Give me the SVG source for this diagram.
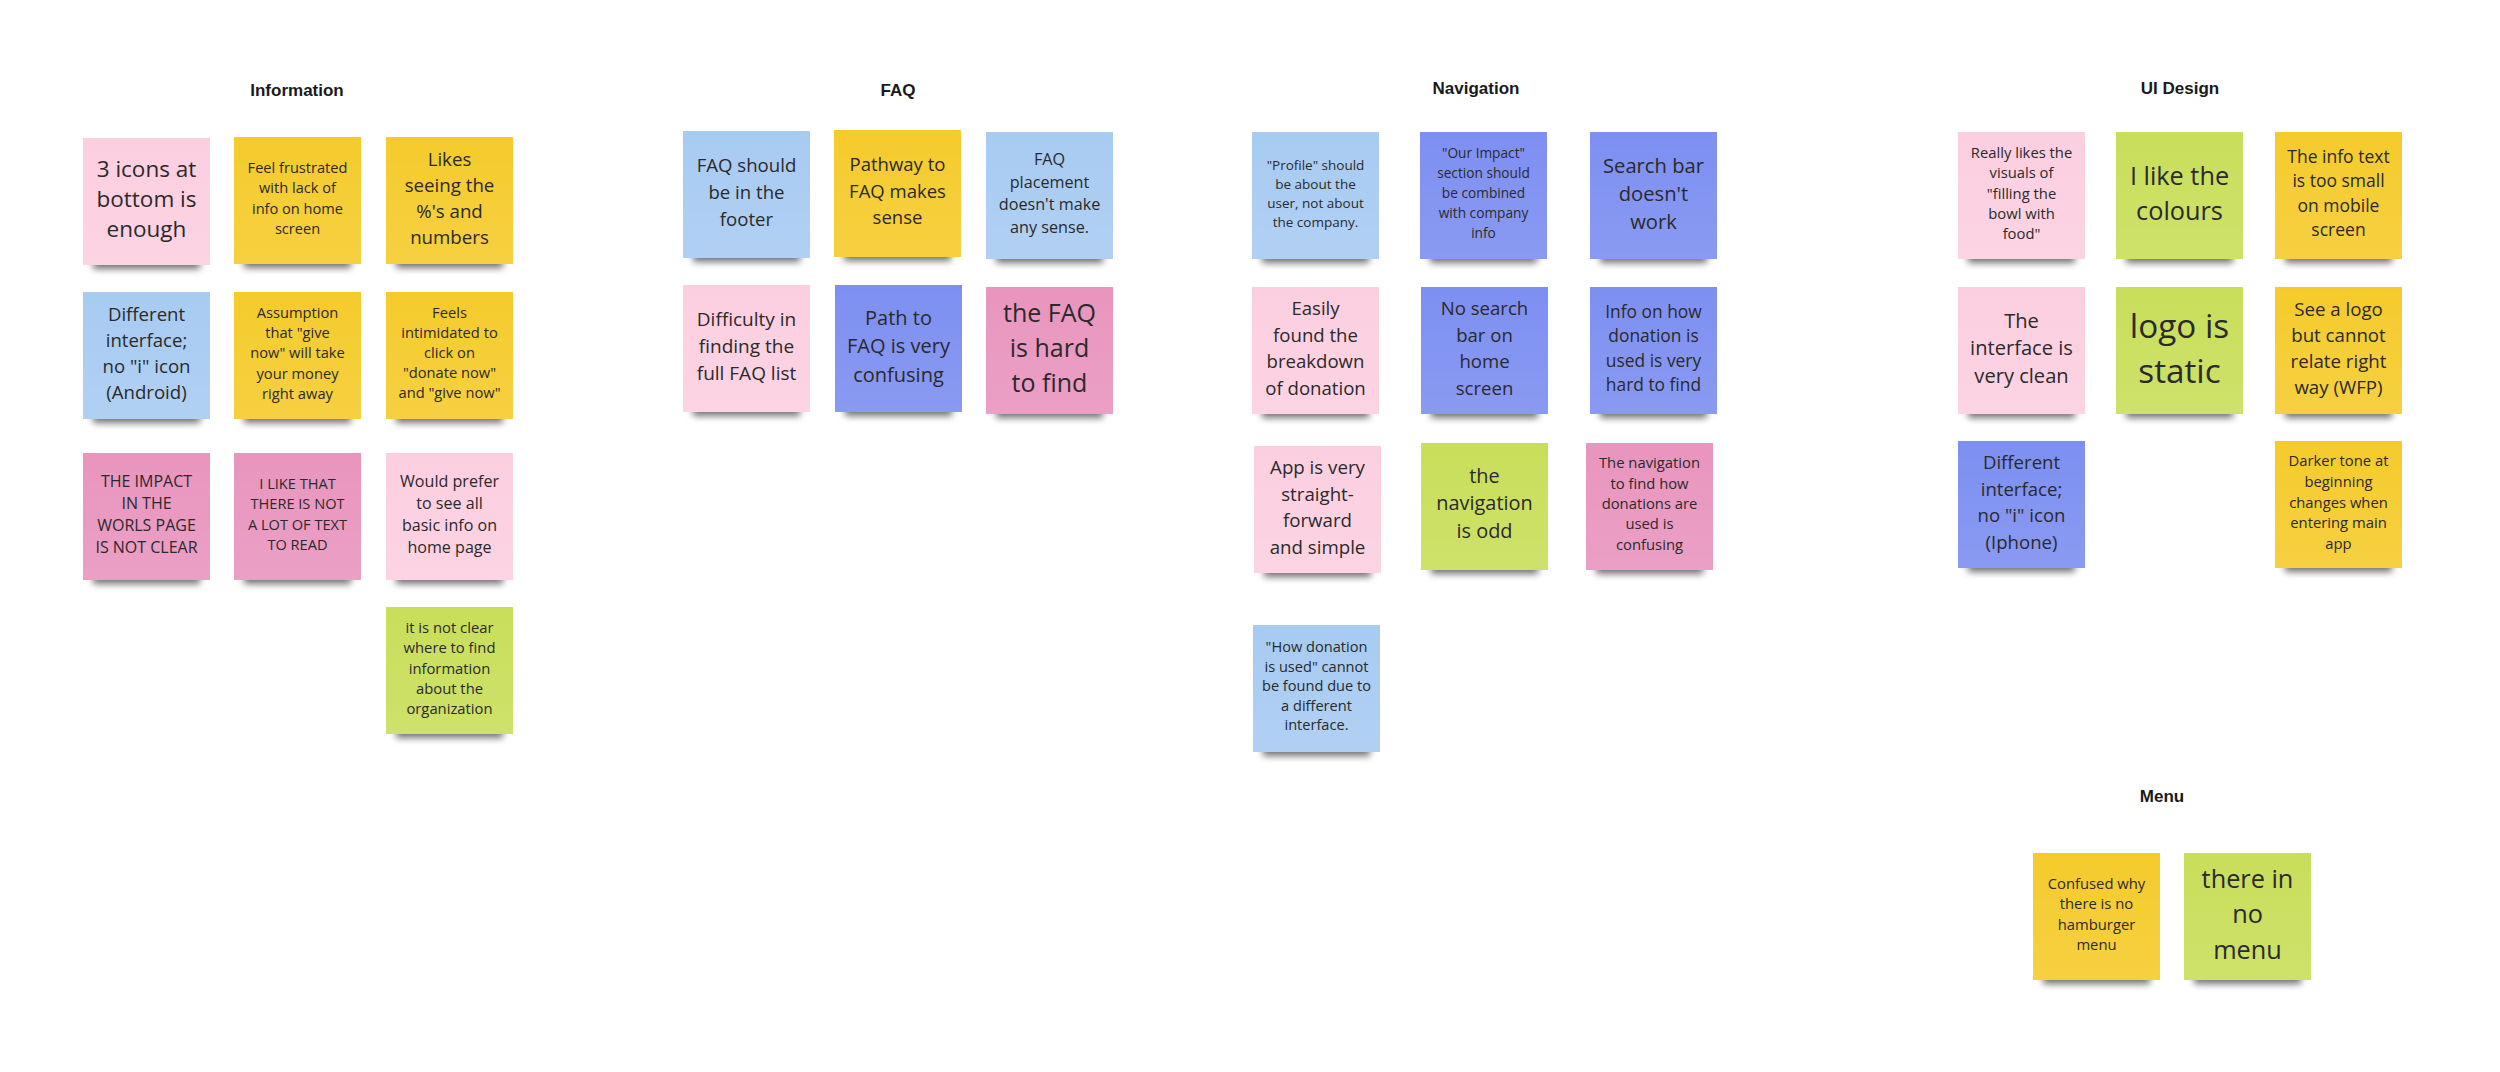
<svg xmlns="http://www.w3.org/2000/svg" xmlns:xlink="http://www.w3.org/1999/xlink" width="2500" height="1072" viewBox="0 0 2500 1072">
<style>
.bg{fill:#ffffff}
.title{font-family:"Liberation Sans",Arial,sans-serif;font-weight:700;font-size:17px;fill:#1a1a1a;text-anchor:middle}
.t{font-family:"Open Sans","Liberation Sans",sans-serif;fill:#2a2a2a;text-anchor:middle}
.sh{fill:#000;opacity:0.55;filter:url(#blur)}
.pk{fill:#fccfe0}
.ye{fill:#f5cb2c}
.lb{fill:#a8cbf2}
.pw{fill:#7d8ff1}
.mg{fill:#e995be}
.gr{fill:#c9de5a}
.gl{fill:url(#gloss)}
</style>
<defs>
<filter id="blur" x="-20%" y="-100%" width="140%" height="300%"><feGaussianBlur stdDeviation="3.5"/></filter>
<linearGradient id="gloss" x1="0" y1="0" x2="0" y2="1">
<stop offset="0" stop-color="#ffffff" stop-opacity="0"/>
<stop offset="1" stop-color="#ffffff" stop-opacity="0.10"/>
</linearGradient>
<g id="shadow"><rect class="sh" x="10" y="116" width="107" height="15"/></g>
</defs>
<rect class="bg" x="0" y="0" width="2500" height="1072"/>

<g id="titles">
<text class="title" x="297" y="96">Information</text>
<text class="title" x="898" y="96">FAQ</text>
<text class="title" x="1476" y="94">Navigation</text>
<text class="title" x="2180" y="94">UI Design</text>
<text class="title" x="2162" y="802">Menu</text>
</g>

<g id="connectors"></g>

<!-- Information -->
<g id="note-i1" transform="translate(83,138)"><use href="#shadow"/><rect class="pk" width="127" height="127"/><rect class="gl" width="127" height="127"/>
<text class="t" style="font-size:22.5px" y="38.5"><tspan x="63.5">3 icons at</tspan><tspan x="63.5" dy="30">bottom is</tspan><tspan x="63.5" dy="30">enough</tspan></text></g>
<g id="note-i2" transform="translate(234,137)"><use href="#shadow"/><rect class="ye" width="127" height="127"/><rect class="gl" width="127" height="127"/>
<text class="t" style="font-size:14.6px" y="35.7"><tspan x="63.5">Feel frustrated</tspan><tspan x="63.5" dy="20.5">with lack of</tspan><tspan x="63.5" dy="20.5">info on home</tspan><tspan x="63.5" dy="20.5">screen</tspan></text></g>
<g id="note-i3" transform="translate(386,137)"><use href="#shadow"/><rect class="ye" width="127" height="127"/><rect class="gl" width="127" height="127"/>
<text class="t" style="font-size:18.7px" y="28.5"><tspan x="63.5">Likes</tspan><tspan x="63.5" dy="26">seeing the</tspan><tspan x="63.5" dy="26">%'s and</tspan><tspan x="63.5" dy="26">numbers</tspan></text></g>
<g id="note-i4" transform="translate(83,292)"><use href="#shadow"/><rect class="lb" width="127" height="127"/><rect class="gl" width="127" height="127"/>
<text class="t" style="font-size:18.6px" y="28.9"><tspan x="63.5">Different</tspan><tspan x="63.5" dy="26">interface;</tspan><tspan x="63.5" dy="26">no "i" icon</tspan><tspan x="63.5" dy="26">(Android)</tspan></text></g>
<g id="note-i5" transform="translate(234,292)"><use href="#shadow"/><rect class="ye" width="127" height="127"/><rect class="gl" width="127" height="127"/>
<text class="t" style="font-size:14.7px" y="25.8"><tspan x="63.5">Assumption</tspan><tspan x="63.5" dy="20.3">that "give</tspan><tspan x="63.5" dy="20.3">now" will take</tspan><tspan x="63.5" dy="20.3">your money</tspan><tspan x="63.5" dy="20.3">right away</tspan></text></g>
<g id="note-i6" transform="translate(386,292)"><use href="#shadow"/><rect class="ye" width="127" height="127"/><rect class="gl" width="127" height="127"/>
<text class="t" style="font-size:14.7px" y="26.4"><tspan x="63.5">Feels</tspan><tspan x="63.5" dy="20">intimidated to</tspan><tspan x="63.5" dy="20">click on</tspan><tspan x="63.5" dy="20">"donate now"</tspan><tspan x="63.5" dy="20">and "give now"</tspan></text></g>
<g id="note-i7" transform="translate(83,453)"><use href="#shadow"/><rect class="mg" width="127" height="127"/><rect class="gl" width="127" height="127"/>
<text class="t" style="font-size:16px" y="33.5"><tspan x="63.5">THE IMPACT</tspan><tspan x="63.5" dy="22.3">IN THE</tspan><tspan x="63.5" dy="22.3">WORLS PAGE</tspan><tspan x="63.5" dy="22.3">IS NOT CLEAR</tspan></text></g>
<g id="note-i8" transform="translate(234,453)"><use href="#shadow"/><rect class="mg" width="127" height="127"/><rect class="gl" width="127" height="127"/>
<text class="t" style="font-size:14.6px" y="35.7"><tspan x="63.5">I LIKE THAT</tspan><tspan x="63.5" dy="20.5">THERE IS NOT</tspan><tspan x="63.5" dy="20.5">A LOT OF TEXT</tspan><tspan x="63.5" dy="20.5">TO READ</tspan></text></g>
<g id="note-i9" transform="translate(386,453)"><use href="#shadow"/><rect class="pk" width="127" height="127"/><rect class="gl" width="127" height="127"/>
<text class="t" style="font-size:16.1px" y="34"><tspan x="63.5">Would prefer</tspan><tspan x="63.5" dy="22">to see all</tspan><tspan x="63.5" dy="22">basic info on</tspan><tspan x="63.5" dy="22">home page</tspan></text></g>
<g id="note-i10" transform="translate(386,607)"><use href="#shadow"/><rect class="gr" width="127" height="127"/><rect class="gl" width="127" height="127"/>
<text class="t" style="font-size:14.8px" y="25.9"><tspan x="63.5">it is not clear</tspan><tspan x="63.5" dy="20.3">where to find</tspan><tspan x="63.5" dy="20.3">information</tspan><tspan x="63.5" dy="20.3">about the</tspan><tspan x="63.5" dy="20.3">organization</tspan></text></g>

<!-- FAQ -->
<g id="note-f1" transform="translate(683,131)"><use href="#shadow"/><rect class="lb" width="127" height="127"/><rect class="gl" width="127" height="127"/>
<text class="t" style="font-size:18.6px" y="41.2"><tspan x="63.5">FAQ should</tspan><tspan x="63.5" dy="26.7">be in the</tspan><tspan x="63.5" dy="26.7">footer</tspan></text></g>
<g id="note-f2" transform="translate(834,130)"><use href="#shadow"/><rect class="ye" width="127" height="127"/><rect class="gl" width="127" height="127"/>
<text class="t" style="font-size:18.5px" y="41.2"><tspan x="63.5">Pathway to</tspan><tspan x="63.5" dy="26.6">FAQ makes</tspan><tspan x="63.5" dy="26.6">sense</tspan></text></g>
<g id="note-f3" transform="translate(986,132)"><use href="#shadow"/><rect class="lb" width="127" height="127"/><rect class="gl" width="127" height="127"/>
<text class="t" style="font-size:16.2px" y="33.4"><tspan x="63.5">FAQ</tspan><tspan x="63.5" dy="22.4">placement</tspan><tspan x="63.5" dy="22.4">doesn't make</tspan><tspan x="63.5" dy="22.4">any sense.</tspan></text></g>
<g id="note-f4" transform="translate(683,285)"><use href="#shadow"/><rect class="pk" width="127" height="127"/><rect class="gl" width="127" height="127"/>
<text class="t" style="font-size:19px" y="41.3"><tspan x="63.5">Difficulty in</tspan><tspan x="63.5" dy="26.7">finding the</tspan><tspan x="63.5" dy="26.7">full FAQ list</tspan></text></g>
<g id="note-f5" transform="translate(835,285)"><use href="#shadow"/><rect class="pw" width="127" height="127"/><rect class="gl" width="127" height="127"/>
<text class="t" style="font-size:20px" y="40.1"><tspan x="63.5">Path to</tspan><tspan x="63.5" dy="28.3">FAQ is very</tspan><tspan x="63.5" dy="28.3">confusing</tspan></text></g>
<g id="note-f6" transform="translate(986,287)"><use href="#shadow"/><rect class="mg" width="127" height="127"/><rect class="gl" width="127" height="127"/>
<text class="t" style="font-size:25px" y="35.3"><tspan x="63.5">the FAQ</tspan><tspan x="63.5" dy="35">is hard</tspan><tspan x="63.5" dy="35">to find</tspan></text></g>

<!-- Navigation -->
<g id="note-n1" transform="translate(1252,132)"><use href="#shadow"/><rect class="lb" width="127" height="127"/><rect class="gl" width="127" height="127"/>
<text class="t" style="font-size:13.5px" y="37.5"><tspan x="63.5">"Profile" should</tspan><tspan x="63.5" dy="19">be about the</tspan><tspan x="63.5" dy="19">user, not about</tspan><tspan x="63.5" dy="19">the company.</tspan></text></g>
<g id="note-n2" transform="translate(1420,132)"><use href="#shadow"/><rect class="pw" width="127" height="127"/><rect class="gl" width="127" height="127"/>
<text class="t" style="font-size:13.7px" y="26.1"><tspan x="63.5">"Our Impact"</tspan><tspan x="63.5" dy="20">section should</tspan><tspan x="63.5" dy="20">be combined</tspan><tspan x="63.5" dy="20">with company</tspan><tspan x="63.5" dy="20">info</tspan></text></g>
<g id="note-n3" transform="translate(1590,132)"><use href="#shadow"/><rect class="pw" width="127" height="127"/><rect class="gl" width="127" height="127"/>
<text class="t" style="font-size:20.2px" y="40.5"><tspan x="63.5">Search bar</tspan><tspan x="63.5" dy="28">doesn't</tspan><tspan x="63.5" dy="28">work</tspan></text></g>
<g id="note-n4" transform="translate(1252,287)"><use href="#shadow"/><rect class="pk" width="127" height="127"/><rect class="gl" width="127" height="127"/>
<text class="t" style="font-size:18.6px" y="28.2"><tspan x="63.5">Easily</tspan><tspan x="63.5" dy="26.5">found the</tspan><tspan x="63.5" dy="26.5">breakdown</tspan><tspan x="63.5" dy="26.5">of donation</tspan></text></g>
<g id="note-n5" transform="translate(1421,287)"><use href="#shadow"/><rect class="pw" width="127" height="127"/><rect class="gl" width="127" height="127"/>
<text class="t" style="font-size:18.6px" y="28.2"><tspan x="63.5">No search</tspan><tspan x="63.5" dy="26.5">bar on</tspan><tspan x="63.5" dy="26.5">home</tspan><tspan x="63.5" dy="26.5">screen</tspan></text></g>
<g id="note-n6" transform="translate(1590,287)"><use href="#shadow"/><rect class="pw" width="127" height="127"/><rect class="gl" width="127" height="127"/>
<text class="t" style="font-size:17.4px" y="31.3"><tspan x="63.5">Info on how</tspan><tspan x="63.5" dy="24.1">donation is</tspan><tspan x="63.5" dy="24.1">used is very</tspan><tspan x="63.5" dy="24.1">hard to find</tspan></text></g>
<g id="note-n7" transform="translate(1254,446)"><use href="#shadow"/><rect class="pk" width="127" height="127"/><rect class="gl" width="127" height="127"/>
<text class="t" style="font-size:18.7px" y="28.2"><tspan x="63.5">App is very</tspan><tspan x="63.5" dy="26.5">straight-</tspan><tspan x="63.5" dy="26.5">forward</tspan><tspan x="63.5" dy="26.5">and simple</tspan></text></g>
<g id="note-n8" transform="translate(1421,443)"><use href="#shadow"/><rect class="gr" width="127" height="127"/><rect class="gl" width="127" height="127"/>
<text class="t" style="font-size:19.9px" y="39.5"><tspan x="63.5">the</tspan><tspan x="63.5" dy="27.9">navigation</tspan><tspan x="63.5" dy="27.9">is odd</tspan></text></g>
<g id="note-n9" transform="translate(1586,443)"><use href="#shadow"/><rect class="mg" width="127" height="127"/><rect class="gl" width="127" height="127"/>
<text class="t" style="font-size:14.8px" y="25.2"><tspan x="63.5">The navigation</tspan><tspan x="63.5" dy="20.4">to find how</tspan><tspan x="63.5" dy="20.4">donations are</tspan><tspan x="63.5" dy="20.4">used is</tspan><tspan x="63.5" dy="20.4">confusing</tspan></text></g>
<g id="note-n10" transform="translate(1253,625)"><use href="#shadow"/><rect class="lb" width="127" height="127"/><rect class="gl" width="127" height="127"/>
<text class="t" style="font-size:14.6px" y="27.4"><tspan x="63.5">"How donation</tspan><tspan x="63.5" dy="19.5">is used" cannot</tspan><tspan x="63.5" dy="19.5">be found due to</tspan><tspan x="63.5" dy="19.5">a different</tspan><tspan x="63.5" dy="19.5">interface.</tspan></text></g>

<!-- UI Design -->
<g id="note-u1" transform="translate(1958,132)"><use href="#shadow"/><rect class="pk" width="127" height="127"/><rect class="gl" width="127" height="127"/>
<text class="t" style="font-size:14.8px" y="25.9"><tspan x="63.5">Really likes the</tspan><tspan x="63.5" dy="20.3">visuals of</tspan><tspan x="63.5" dy="20.3">"filling the</tspan><tspan x="63.5" dy="20.3">bowl with</tspan><tspan x="63.5" dy="20.3">food"</tspan></text></g>
<g id="note-u2" transform="translate(2116,132)"><use href="#shadow"/><rect class="gr" width="127" height="127"/><rect class="gl" width="127" height="127"/>
<text class="t" style="font-size:25.3px" y="52.9"><tspan x="63.5">I like the</tspan><tspan x="63.5" dy="35">colours</tspan></text></g>
<g id="note-u3" transform="translate(2275,132)"><use href="#shadow"/><rect class="ye" width="127" height="127"/><rect class="gl" width="127" height="127"/>
<text class="t" style="font-size:17.5px" y="30.6"><tspan x="63.5">The info text</tspan><tspan x="63.5" dy="24.6">is too small</tspan><tspan x="63.5" dy="24.6">on mobile</tspan><tspan x="63.5" dy="24.6">screen</tspan></text></g>
<g id="note-u4" transform="translate(1958,287)"><use href="#shadow"/><rect class="pk" width="127" height="127"/><rect class="gl" width="127" height="127"/>
<text class="t" style="font-size:20.1px" y="40.8"><tspan x="63.5">The</tspan><tspan x="63.5" dy="27.6">interface is</tspan><tspan x="63.5" dy="27.6">very clean</tspan></text></g>
<g id="note-u5" transform="translate(2116,287)"><use href="#shadow"/><rect class="gr" width="127" height="127"/><rect class="gl" width="127" height="127"/>
<text class="t" style="font-size:33.3px" y="50.9"><tspan x="63.5">logo is</tspan><tspan x="63.5" dy="44.8">static</tspan></text></g>
<g id="note-u6" transform="translate(2275,287)"><use href="#shadow"/><rect class="ye" width="127" height="127"/><rect class="gl" width="127" height="127"/>
<text class="t" style="font-size:18.7px" y="29"><tspan x="63.5">See a logo</tspan><tspan x="63.5" dy="25.9">but cannot</tspan><tspan x="63.5" dy="25.9">relate right</tspan><tspan x="63.5" dy="25.9">way (WFP)</tspan></text></g>
<g id="note-u7" transform="translate(1958,441)"><use href="#shadow"/><rect class="pw" width="127" height="127"/><rect class="gl" width="127" height="127"/>
<text class="t" style="font-size:18.6px" y="27.7"><tspan x="63.5">Different</tspan><tspan x="63.5" dy="26.8">interface;</tspan><tspan x="63.5" dy="26.8">no "i" icon</tspan><tspan x="63.5" dy="26.8">(Iphone)</tspan></text></g>
<g id="note-u8" transform="translate(2275,441)"><use href="#shadow"/><rect class="ye" width="127" height="127"/><rect class="gl" width="127" height="127"/>
<text class="t" style="font-size:14.8px" y="25.1"><tspan x="63.5">Darker tone at</tspan><tspan x="63.5" dy="20.7">beginning</tspan><tspan x="63.5" dy="20.7">changes when</tspan><tspan x="63.5" dy="20.7">entering main</tspan><tspan x="63.5" dy="20.7">app</tspan></text></g>

<!-- Menu -->
<g id="note-m1" transform="translate(2033,853)"><use href="#shadow"/><rect class="ye" width="127" height="127"/><rect class="gl" width="127" height="127"/>
<text class="t" style="font-size:14.8px" y="35.8"><tspan x="63.5">Confused why</tspan><tspan x="63.5" dy="20.5">there is no</tspan><tspan x="63.5" dy="20.5">hamburger</tspan><tspan x="63.5" dy="20.5">menu</tspan></text></g>
<g id="note-m2" transform="translate(2184,853)"><use href="#shadow"/><rect class="gr" width="127" height="127"/><rect class="gl" width="127" height="127"/>
<text class="t" style="font-size:25.3px" y="34.9"><tspan x="63.5">there in</tspan><tspan x="63.5" dy="35.5">no</tspan><tspan x="63.5" dy="35.5">menu</tspan></text></g>
</svg>
